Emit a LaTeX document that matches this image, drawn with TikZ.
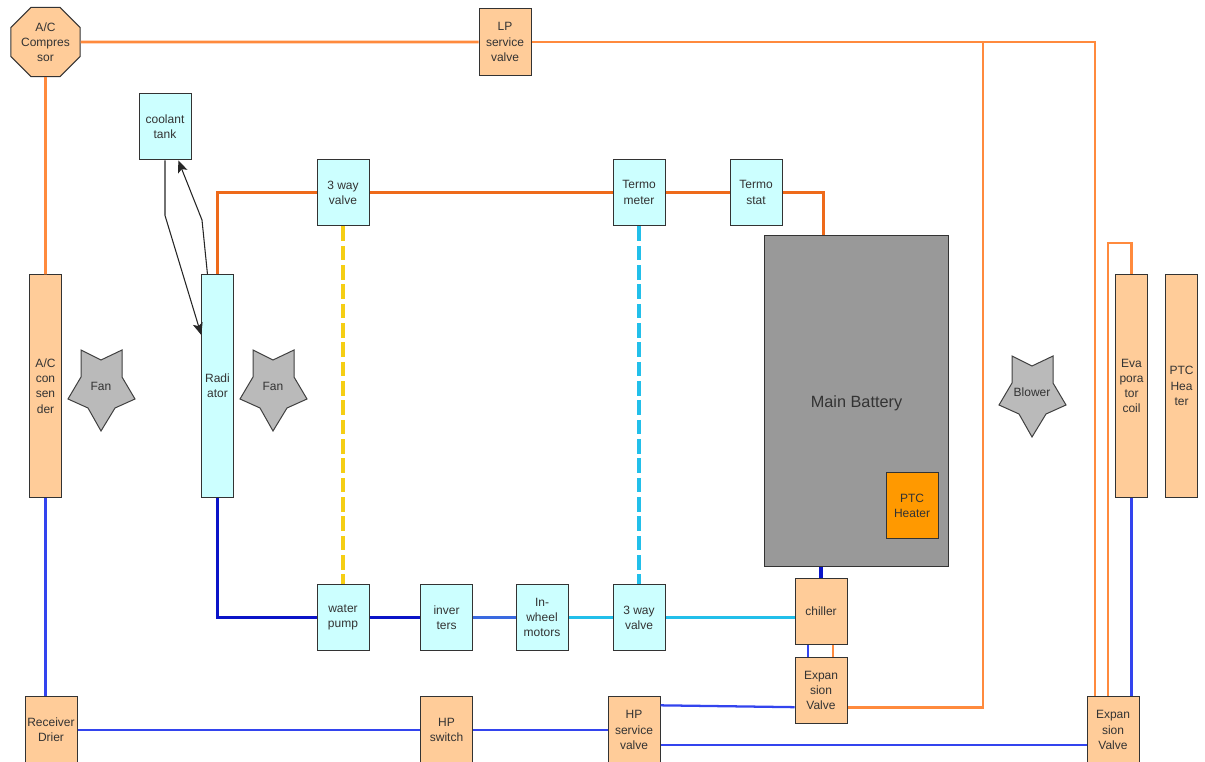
\documentclass[tikz,border=0pt]{standalone}
\usepackage{fontspec}
\setmainfont{Liberation Sans}
\usetikzlibrary{arrows.meta,shapes.geometric}
\definecolor{peach}{HTML}{FFCC99}
\definecolor{palecyan}{HTML}{CCFFFF}
\definecolor{ptcorange}{HTML}{FF9900}
\definecolor{acorange}{HTML}{FF8A3D}
\definecolor{acblue}{HTML}{3344EE}
\definecolor{hotline}{HTML}{EE6A1A}
\definecolor{coldline}{HTML}{0A14C8}
\definecolor{midline}{HTML}{3A6AE0}
\definecolor{cyanline}{HTML}{22BFEA}
\definecolor{yellowline}{HTML}{F5CE14}
\newcommand{\starblob}[4]{%
  \draw[blobline,shift={(#2,#3)}] (-20,-40) -- (0,-30) -- (21,-40) -- (21,-13) -- (34,9) -- (14,18) -- (0,41) -- (-13,18) -- (-33,9) -- (-20,-13) -- cycle;
  \node[blobtext] (#1) at (#2,#3-4) {#4};}
\begin{document}
\begin{tikzpicture}[x=0.75pt,y=-0.75pt,
  every node/.style={font=\fontsize{9}{11.4}\selectfont,text=black!80},
  box/.style={draw=black!80,line width=0.75pt,inner sep=0pt,align=center,minimum width=39pt,minimum height=50.2pt},
  acbox/.style={box,fill=peach},
  cbox/.style={box,fill=palecyan},
  tallac/.style={acbox,minimum width=23.6pt,minimum height=166.5pt},
  tallc/.style={cbox,minimum width=23.6pt,minimum height=166.5pt},
  blobline/.style={draw=black!75,line width=0.75pt,fill=black!27},
  blobtext/.style={inner sep=0pt,align=center},
  acpipe/.style={line width=2pt,acorange},
  acret/.style={line width=1.7pt,acblue},
  hotpipe/.style={line width=2.4pt,hotline},
  coldpipe/.style={line width=2.4pt,coldline},
  feed/.style={line width=0.8pt,black!85,-{Stealth[length=9pt,width=7.5pt,inset=2pt]}}]
\useasboundingbox (0,0) rectangle (1205,762);
% refrigerant side
\node[draw=black!80,line width=0.75pt,fill=peach,inner sep=0pt,align=center,regular polygon,regular polygon sides=8,minimum size=56.4pt] (comp) at (45.5,42) {A/C\\Compres\\sor};
\node[acbox] (lpv) at (505,42) {LP\\service\\valve};
\node[tallac] (cond) at (45.5,386) {A/C\\con\\sen\\der};
\node[tallac] (evap) at (1131.5,386) {Eva\\pora\\tor\\coil};
\node[tallac] (ptcair) at (1181.5,386) {PTC\\Hea\\ter};
\node[acbox] (drier) at (51,730) {Receiver\\Drier};
\node[acbox] (hpsw) at (446.5,730) {HP\\switch};
\node[acbox] (hpsv) at (634,730) {HP\\service\\valve};
\node[acbox] (expb) at (821,690.5) {Expan\\sion\\Valve};
\node[acbox] (expe) at (1113,730) {Expan\\sion\\Valve};
\node[acbox] (chil) at (821,611.5) {chiller};
% coolant side
\node[cbox] (tank) at (165,126.5) {coolant\\tank};
\node[tallc] (rad) at (217.5,386) {Radi\\ator};
\node[cbox] (vtop) at (343,192.5) {3 way\\valve};
\node[cbox] (thm) at (639,192.5) {Termo\\meter};
\node[cbox] (ths) at (756,192.5) {Termo\\stat};
\node[cbox] (pump) at (343,617.5) {water\\pump};
\node[cbox] (inv) at (446.5,617.5) {inver\\ters};
\node[cbox] (motor) at (542,617.5) {In-\\wheel\\motors};
\node[cbox] (vbot) at (639,617.5) {3 way\\valve};
\node[box,fill=black!40,minimum width=138.7pt,minimum height=247.5pt,font=\fontsize{12.2}{14}\selectfont] (batt) at (856.5,401) {\rule{0pt}{12pt}Main Battery};
\node[box,fill=ptcorange] (ptcbat) at (912,505.5) {PTC\\Heater};
\starblob{fana}{101}{390}{Fan}
\starblob{fanb}{273}{390}{Fan}
\starblob{blow}{1032}{396}{Blower}
\coordinate (acjoin) at (983,42);
\coordinate (accorner) at (1095,42);
\coordinate (evtop) at (1108,243);
% pipes
\draw[acpipe] (comp) -- (lpv);
\draw[acpipe] (comp) -- (cond);
\draw[acpipe] (lpv) -- (accorner) -- (accorner |- expe.north);
\draw[acpipe] (acjoin) |- ([yshift=-12.5pt]expb.east);
\draw[acpipe] (evap.north) |- (evtop) -- (evtop |- expe.north);
\draw[acpipe] ([xshift=9pt]expb.north) -- ([xshift=9pt]chil.south);
\draw[acret] (cond.south) -- (cond.south |- drier.north);
\draw[acret] (drier) -- (hpsw);
\draw[acret] (hpsw) -- (hpsv);
\draw[acret] ([yshift=18.5pt]hpsv.east) -- ([yshift=-12.5pt]expb.west);
\draw[acret] ([yshift=-11.5pt]hpsv.east) -- ([yshift=-11.5pt]hpsv.east -| expe.west);
\draw[acret] (evap.south) -- (evap.south |- expe.north);
\draw[acret] ([xshift=-9.5pt]expb.north) -- ([xshift=-9.5pt]chil.south);
\draw[hotpipe] (rad.north) |- (vtop);
\draw[hotpipe] (vtop) -- (thm);
\draw[hotpipe] (thm) -- (ths);
\draw[hotpipe] (ths) -| ([xshift=-25pt]batt.north);
\draw[line width=2.4pt,yellowline,dash pattern=on 11pt off 3.5pt] (vtop) -- (pump);
\draw[line width=2.4pt,cyanline,dash pattern=on 11pt off 3.5pt] (thm) -- (vbot);
\draw[coldpipe] (rad.south) |- (pump);
\draw[coldpipe] (pump) -- (inv);
\draw[line width=2.4pt,midline] (inv) -- (motor);
\draw[line width=2.4pt,cyanline] (motor) -- (vbot);
\draw[line width=2.4pt,cyanline] (vbot.east) -- (vbot.east -| chil.west);
\draw[coldpipe] (chil.north) -- (chil.north |- batt.south);
\draw[feed] (tank.south) -- ++(0,55) -- (rad.west |- 0,335);
\draw[feed] ([xshift=-7.5pt]rad.north) -- (202,220) -- ([xshift=10pt]tank.south);
\end{tikzpicture}
\end{document}
